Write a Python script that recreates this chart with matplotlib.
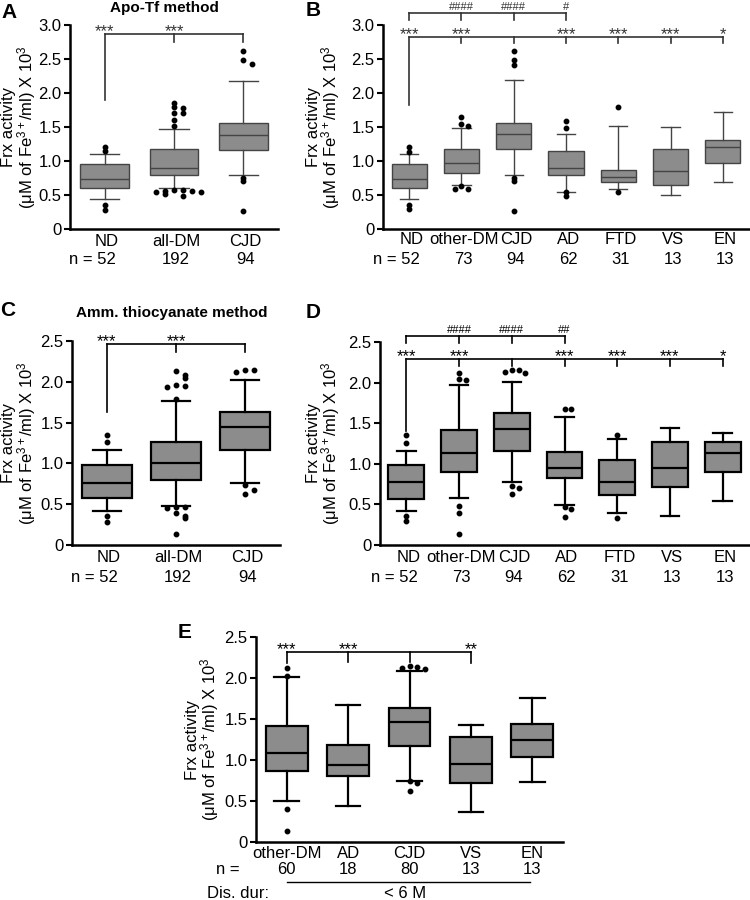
import matplotlib
matplotlib.use("Agg")
import matplotlib.pyplot as plt

plt.rcParams['font.family'] = ['Liberation Sans', 'DejaVu Sans']
plt.rcParams['mathtext.fontset'] = 'custom'
plt.rcParams['mathtext.rm'] = 'Liberation Sans'
plt.rcParams['mathtext.it'] = 'Liberation Sans:italic'

# ---- data ----
# panel A (Apo-Tf method)
A_labels = ['ND', 'all-DM', 'CJD']
A_n = ['52', '192', '94']
A_q1 = [0.61, 0.80, 1.16]
A_med = [0.74, 0.90, 1.38]
A_q3 = [0.95, 1.18, 1.56]
A_lo = [0.44, 0.61, 0.80]
A_hi = [1.11, 1.47, 2.18]
A_fliers = [[1.21, 1.14, 0.35, 0.28],
            [1.86, 1.80, 1.78, 1.71, 1.71, 1.60, 1.51,
             0.58, 0.57, 0.56, 0.56, 0.54, 0.54, 0.51, 0.49],
            [2.62, 2.48, 2.43, 0.75, 0.70, 0.27]]

# panel B
B_labels = ['ND', 'other-DM', 'CJD', 'AD', 'FTD', 'VS', 'EN']
B_n = ['52', '73', '94', '62', '31', '13', '13']
B_q1 = [0.61, 0.82, 1.17, 0.79, 0.69, 0.64, 0.97]
B_med = [0.74, 0.97, 1.39, 0.90, 0.77, 0.86, 1.21]
B_q3 = [0.95, 1.18, 1.56, 1.14, 0.87, 1.17, 1.31]
B_lo = [0.44, 0.65, 0.80, 0.55, 0.59, 0.50, 0.69]
B_hi = [1.11, 1.49, 2.19, 1.40, 1.51, 1.50, 1.72]
B_fliers = [[1.21, 1.13, 0.36, 0.29],
            [1.65, 1.54, 1.52, 0.63, 0.59, 0.59],
            [2.62, 2.48, 2.41, 0.75, 0.70, 0.27],
            [1.59, 1.48, 0.54, 0.49],
            [1.80, 0.54], [], []]

# panel C (Amm. thiocyanate method)
C_labels = ['ND', 'all-DM', 'CJD']
C_n = ['52', '192', '94']
C_q1 = [0.57, 0.80, 1.17]
C_med = [0.76, 1.01, 1.44]
C_q3 = [0.98, 1.26, 1.63]
C_lo = [0.42, 0.48, 0.76]
C_hi = [1.16, 1.77, 2.02]
C_fliers = [[1.35, 1.26, 0.35, 0.28],
            [2.13, 2.08, 2.05, 1.96, 1.95, 1.94, 1.79,
             0.46, 0.46, 0.45, 0.39, 0.35, 0.33, 0.14],
            [2.15, 2.14, 2.12, 0.73, 0.68, 0.62]]

# panel D
D_labels = ['ND', 'other-DM', 'CJD', 'AD', 'FTD', 'VS', 'EN']
D_n = ['52', '73', '94', '62', '31', '13', '13']
D_q1 = [0.57, 0.90, 1.16, 0.82, 0.61, 0.72, 0.90]
D_med = [0.77, 1.13, 1.43, 0.95, 0.78, 0.95, 1.13]
D_q3 = [0.98, 1.42, 1.62, 1.15, 1.05, 1.27, 1.27]
D_lo = [0.42, 0.58, 0.77, 0.49, 0.39, 0.36, 0.54]
D_hi = [1.16, 1.97, 2.01, 1.58, 1.31, 1.44, 1.38]
D_fliers = [[1.36, 1.26, 0.36, 0.29],
            [2.12, 2.05, 2.03, 0.48, 0.40, 0.14],
            [2.16, 2.15, 2.13, 2.12, 0.73, 0.70, 0.63],
            [1.68, 1.67, 0.47, 0.44, 0.35],
            [1.36, 0.33], [], []]

# panel E (disease duration < 6 M)
E_labels = ['other-DM', 'AD', 'CJD', 'VS', 'EN']
E_n = ['60', '18', '80', '13', '13']
E_q1 = [0.86, 0.81, 1.17, 0.72, 1.04]
E_med = [1.09, 0.94, 1.46, 0.95, 1.25]
E_q3 = [1.42, 1.18, 1.63, 1.28, 1.44]
E_lo = [0.50, 0.44, 0.75, 0.37, 0.73]
E_hi = [2.01, 1.67, 2.08, 1.43, 1.76]
E_fliers = [[2.12, 2.03, 0.40, 0.14], [],
            [2.15, 2.13, 2.12, 2.11, 0.75, 0.72, 0.62], [], []]

# significance brackets: (level, leg bottoms per position, marks per position)
A_sig = (2.87, {1: 1.89, 2: 2.75, 3: 2.75}, {1: '***', 2: '***'})
B_sig = (2.83, {1: 1.83, 2: 2.73, 3: 2.73, 4: 2.73, 5: 2.73, 6: 2.73, 7: 2.73},
         {1: '***', 2: '***', 4: '***', 5: '***', 6: '***', 7: '*'})
B_sig2 = (3.17, {1: 3.07, 2: 3.07, 3: 3.07, 4: 3.07}, {2: '####', 3: '####', 4: '#'})
C_sig = (2.46, {1: 1.63, 2: 2.37, 3: 2.37}, {1: '***', 2: '***'})
D_sig = (2.29, {1: 1.40, 2: 2.20, 3: 2.20, 4: 2.20, 5: 2.20, 6: 2.20, 7: 2.20},
         {1: '***', 2: '***', 4: '***', 5: '***', 6: '***', 7: '*'})
D_sig2 = (2.57, {1: 2.49, 2: 2.49, 3: 2.49, 4: 2.49}, {2: '####', 3: '####', 4: '##'})
E_sig = (2.32, {1: 2.18, 2: 2.20, 3: 2.20, 4: 2.18}, {1: '***', 2: '***', 4: '**'})

YLAB1 = 'Frx activity'
YLAB2 = '(μM of Fe$^{3+}$/ml) X 10$^{3}$'
FILL = '#8c8c8c'


def jitter(vals):
    # spread dots that sit at nearly the same height
    steps = [0, 0.13, -0.13, 0.26, -0.26, 0.39]
    out = []
    for i, v in enumerate(vals):
        k = sum(1 for w in vals[:i] if abs(w - v) < 0.05)
        out.append(steps[k % len(steps)])
    return out


def panel(ax, labels, q1, med, q3, lo, hi, fliers, ymax, heavy, width, capw):
    pos = list(range(1, len(labels) + 1))
    stats = [dict(med=m, q1=a, q3=b, whislo=l, whishi=h, fliers=[])
             for a, m, b, l, h in zip(q1, med, q3, lo, hi)]
    ec = 'black' if heavy else '#444444'
    lw = 1.6 if heavy else 1.0
    ax.bxp(stats, positions=pos, widths=width, capwidths=capw, patch_artist=True,
           showfliers=False,
           boxprops=dict(facecolor=FILL, edgecolor=ec, linewidth=lw),
           medianprops=dict(color=ec, linewidth=lw),
           whiskerprops=dict(color=ec, linewidth=lw),
           capprops=dict(color=ec, linewidth=lw))
    for p, fl in zip(pos, fliers):
        if fl:
            ax.plot([p + d for d in jitter(fl)], fl, 'o', color='black',
                    markersize=3.2, linestyle='none', clip_on=False)
    ax.set_xlim(0.5, len(labels) + 0.5)
    ax.set_ylim(0, ymax)
    ticks = [i * 0.5 for i in range(int(ymax / 0.5) + 1)]
    ax.set_yticks(ticks)
    ax.set_yticklabels(['0'] + ['%.1f' % t for t in ticks[1:]], fontsize=12)
    ax.set_xticks([])
    ax.tick_params(axis='y', length=4.5, width=1.5, pad=1.5)
    for s in ('top', 'right'):
        ax.spines[s].set_visible(False)
    for s in ('left', 'bottom'):
        ax.spines[s].set_linewidth(1.8)
    return pos


def brackets(ax, sig, color, star_size, lift):
    level, legs, marks = sig
    xs = sorted(legs)
    ax.plot([xs[0], xs[-1]], [level, level], color=color, lw=1.2, clip_on=False)
    for x, b in legs.items():
        ax.plot([x, x], [level, b], color=color, lw=1.2, clip_on=False)
    for x, m in marks.items():
        ax.annotate(m, xy=(x, level), xytext=(0, lift), textcoords='offset points',
                    ha='center', va='baseline', fontsize=star_size, color=color,
                    annotation_clip=False)


def xlabels(ax, labels, nvals, dy_lab, dy_n):
    for i, (lab, n) in enumerate(zip(labels, nvals)):
        ax.annotate(lab, xy=(i + 1, 0), xycoords=('data', 'axes fraction'),
                    xytext=(1.5, -dy_lab * 0.72), textcoords='offset points',
                    ha='center', va='center', fontsize=12)
        if i == 0:
            ax.annotate('n = ' + n, xy=(1, 0), xycoords=('data', 'axes fraction'),
                        xytext=(8, -dy_n * 0.72), textcoords='offset points',
                        ha='right', va='center', fontsize=12)
            continue
        ax.annotate(n, xy=(i + 1, 0), xycoords=('data', 'axes fraction'),
                    xytext=(1.5, -dy_n * 0.72), textcoords='offset points',
                    ha='center', va='center', fontsize=12)


def ylab(ax, d1, d2):
    # two label lines, placed d1 / d2 pixels left of the y axis
    for txt, d in ((YLAB1, d1), (YLAB2, d2)):
        ax.annotate(txt, xy=(0, 0.5), xycoords='axes fraction',
                    xytext=(-d * 0.72, 0), textcoords='offset points',
                    rotation=90, ha='center', va='center', fontsize=12)


fig = plt.figure(figsize=(7.5, 9), dpi=100)
W, H = 750.0, 900.0


def make_ax(x0, x1, ybot, ytop):
    return fig.add_axes([x0 / W, 1 - ybot / H, (x1 - x0) / W, (ybot - ytop) / H])


# A
axA = make_ax(70, 278, 229, 25)
panel(axA, A_labels, A_q1, A_med, A_q3, A_lo, A_hi, A_fliers, 3.0, False, 0.7, 0.42)
brackets(axA, A_sig, '#333333', 12, -1.5)
xlabels(axA, A_labels, A_n, 13, 31)
ylab(axA, 61, 43)
fig.text(164 / W, 1 - 8 / H, 'Apo-Tf method', fontsize=11, fontweight='bold',
         ha='center', va='center')

# B
axB = make_ax(383, 749, 229, 25)
panel(axB, B_labels, B_q1, B_med, B_q3, B_lo, B_hi, B_fliers, 3.0, False, 0.67, 0.35)
brackets(axB, B_sig, '#333333', 12, -1.5)
brackets(axB, B_sig2, '#333333', 8, 2.5)
xlabels(axB, B_labels, B_n, 11, 31)
ylab(axB, 70, 52)

# C
axC = make_ax(72, 280, 545, 341)
panel(axC, C_labels, C_q1, C_med, C_q3, C_lo, C_hi, C_fliers, 2.5, True, 0.72, 0.4)
brackets(axC, C_sig, 'black', 12, -1.5)
xlabels(axC, C_labels, C_n, 13, 33)
ylab(axC, 63, 45)
fig.text(172 / W, 1 - 313 / H, 'Amm. thiocyanate method', fontsize=11,
         fontweight='bold', ha='center', va='center')

# D
axD = make_ax(380, 749, 545, 342)
panel(axD, D_labels, D_q1, D_med, D_q3, D_lo, D_hi, D_fliers, 2.5, True, 0.68, 0.35)
brackets(axD, D_sig, 'black', 12, -1.5)
brackets(axD, D_sig2, 'black', 8, 2.5)
xlabels(axD, D_labels, D_n, 12, 32)
ylab(axD, 67, 49)

# E
axE = make_ax(256, 563, 842, 637)
panel(axE, E_labels, E_q1, E_med, E_q3, E_lo, E_hi, E_fliers, 2.5, True, 0.68, 0.4)
brackets(axE, E_sig, 'black', 12, -1.5)
for i, (lab, n) in enumerate(zip(E_labels, E_n)):
    axE.annotate(lab, xy=(i + 1, 0), xycoords=('data', 'axes fraction'),
                 xytext=(0, -11 * 0.72), textcoords='offset points',
                 ha='center', va='center', fontsize=12)
    axE.annotate(n, xy=(i + 1, 0), xycoords=('data', 'axes fraction'),
                 xytext=(0, -27 * 0.72), textcoords='offset points',
                 ha='center', va='center', fontsize=12)
fig.text(228 / W, 1 - 869 / H, 'n =', fontsize=12, ha='center', va='center')
fig.text(238 / W, 1 - 893 / H, 'Dis. dur:', fontsize=12, ha='center', va='center')
fig.text(405 / W, 1 - 893 / H, '< 6 M', fontsize=12, ha='center', va='center')
fig.add_artist(plt.Line2D([287 / W, 530 / W], [1 - 882 / H, 1 - 882 / H],
                          color='black', lw=1.0))
ylab(axE, 64, 46)

# panel letters
for lab, x, y in [('A', 9, 13), ('B', 313, 10), ('C', 8, 310), ('D', 313, 313), ('E', 185, 632)]:
    fig.text(x / W, 1 - y / H, lab, fontsize=15, fontweight='bold',
             ha='center', va='center')

fig.savefig('out.png', dpi=100)
